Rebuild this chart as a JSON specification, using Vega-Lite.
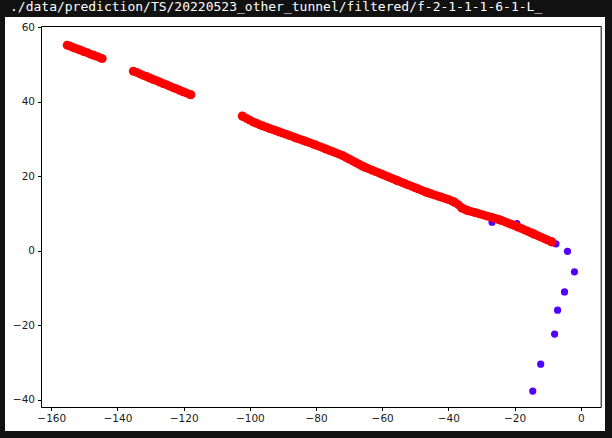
{
  "$schema": "https://vega.github.io/schema/vega-lite/v6.json",
  "autosize": "none",
  "padding": {"left": 5, "top": 17, "right": 7, "bottom": 7},
  "width": 600,
  "height": 414,
  "background": "#111111",
  "view": {"fill": "white", "stroke": null},
  "title": {
    "text": "./data/prediction/TS/20220523_other_tunnel/filtered/f-2-1-1-1-6-1-L_",
    "anchor": "start",
    "frame": "group",
    "color": "white",
    "font": "DejaVu Sans Mono",
    "fontSize": 13,
    "fontWeight": "normal",
    "offset": 3,
    "dx": 5
  },
  "config": {
    "axis": {
      "grid": false,
      "labelFont": "DejaVu Sans",
      "labelFontSize": 10.5,
      "labelColor": "#1a1a1a",
      "tickColor": "#000000",
      "tickSize": 3.5,
      "tickWidth": 1,
      "domainColor": "#000000",
      "domainWidth": 1,
      "labelPadding": 3,
      "title": null
    }
  },
  "datasets": {
    "truth": [
      {"x": -26.8, "y": 7.7},
      {"x": -19.3, "y": 7.3},
      {"x": -7.5, "y": 1.9},
      {"x": -4.0, "y": -0.1},
      {"x": -1.9, "y": -5.6},
      {"x": -4.9, "y": -11.0},
      {"x": -7.0, "y": -15.9},
      {"x": -7.9, "y": -22.3},
      {"x": -12.1, "y": -30.4},
      {"x": -14.5, "y": -37.6}
    ],
    "pred": [
      {"x": -155.2, "y": 55.2}, {"x": -154.2, "y": 54.9}, {"x": -153.2, "y": 54.5}, {"x": -152.2, "y": 54.2},
      {"x": -151.2, "y": 53.9}, {"x": -150.2, "y": 53.5}, {"x": -149.2, "y": 53.2}, {"x": -148.2, "y": 52.8},
      {"x": -147.2, "y": 52.5}, {"x": -146.2, "y": 52.2}, {"x": -145.2, "y": 51.8}, {"x": -144.6, "y": 51.6},
      {"x": -135.2, "y": 48.2}, {"x": -134.2, "y": 47.9}, {"x": -133.2, "y": 47.5}, {"x": -132.2, "y": 47.1},
      {"x": -131.2, "y": 46.8}, {"x": -130.2, "y": 46.4}, {"x": -129.2, "y": 46.0}, {"x": -128.2, "y": 45.7},
      {"x": -127.2, "y": 45.3}, {"x": -126.2, "y": 44.9}, {"x": -125.2, "y": 44.6}, {"x": -124.2, "y": 44.2},
      {"x": -123.2, "y": 43.8}, {"x": -122.2, "y": 43.5}, {"x": -121.2, "y": 43.1}, {"x": -120.2, "y": 42.7},
      {"x": -119.2, "y": 42.4}, {"x": -118.2, "y": 42.0}, {"x": -117.8, "y": 41.9},
      {"x": -102.3, "y": 36.2}, {"x": -102, "y": 36.05}, {"x": -101, "y": 35.55}, {"x": -100, "y": 35.1},
      {"x": -99, "y": 34.6}, {"x": -98, "y": 34.25}, {"x": -97, "y": 33.85}, {"x": -96, "y": 33.5},
      {"x": -95, "y": 33.2}, {"x": -94, "y": 32.85}, {"x": -93, "y": 32.55}, {"x": -92, "y": 32.25},
      {"x": -91, "y": 31.9}, {"x": -90, "y": 31.6}, {"x": -89, "y": 31.3}, {"x": -88, "y": 30.95},
      {"x": -87, "y": 30.65}, {"x": -86, "y": 30.3}, {"x": -85, "y": 30.0}, {"x": -84, "y": 29.7},
      {"x": -83, "y": 29.35}, {"x": -82, "y": 29.05}, {"x": -81, "y": 28.7}, {"x": -80, "y": 28.4},
      {"x": -79, "y": 28.05}, {"x": -78, "y": 27.7}, {"x": -77, "y": 27.35}, {"x": -76, "y": 27.0},
      {"x": -75, "y": 26.65}, {"x": -74, "y": 26.3}, {"x": -73, "y": 25.95}, {"x": -72, "y": 25.6},
      {"x": -71, "y": 25.13}, {"x": -70, "y": 24.66}, {"x": -69, "y": 24.19}, {"x": -68, "y": 23.72},
      {"x": -67, "y": 23.26}, {"x": -66, "y": 22.79}, {"x": -65.6, "y": 22.6}, {"x": -65, "y": 22.38},
      {"x": -64, "y": 22.01}, {"x": -63, "y": 21.65}, {"x": -62, "y": 21.28}, {"x": -61, "y": 20.92},
      {"x": -60, "y": 20.55}, {"x": -59, "y": 20.18}, {"x": -58, "y": 19.82}, {"x": -57, "y": 19.45},
      {"x": -56, "y": 19.08}, {"x": -55.5, "y": 18.9}, {"x": -55, "y": 18.72}, {"x": -54, "y": 18.37},
      {"x": -53, "y": 18.01}, {"x": -52, "y": 17.66}, {"x": -51, "y": 17.3}, {"x": -50, "y": 16.95},
      {"x": -49, "y": 16.59}, {"x": -48, "y": 16.23}, {"x": -47, "y": 15.88}, {"x": -46.5, "y": 15.7},
      {"x": -46, "y": 15.55}, {"x": -45, "y": 15.26}, {"x": -44, "y": 14.97}, {"x": -43, "y": 14.67},
      {"x": -42, "y": 14.38}, {"x": -41, "y": 14.09}, {"x": -40, "y": 13.8}, {"x": -39, "y": 13.43},
      {"x": -38.4, "y": 13.2}, {"x": -38, "y": 12.97}, {"x": -37, "y": 12.4}, {"x": -36, "y": 11.58},
      {"x": -35.9, "y": 11.5}, {"x": -35, "y": 11.14}, {"x": -34.4, "y": 10.9}, {"x": -34, "y": 10.8},
      {"x": -33, "y": 10.55}, {"x": -32, "y": 10.3}, {"x": -31, "y": 10.05}, {"x": -30, "y": 9.8},
      {"x": -29, "y": 9.54}, {"x": -28, "y": 9.27}, {"x": -27, "y": 9.01}, {"x": -26, "y": 8.75},
      {"x": -25, "y": 8.48}, {"x": -24.3, "y": 8.3}, {"x": -24, "y": 8.2}, {"x": -23, "y": 7.85},
      {"x": -22, "y": 7.5}, {"x": -21, "y": 7.15}, {"x": -20, "y": 6.8}, {"x": -19, "y": 6.41},
      {"x": -18, "y": 6.03}, {"x": -17, "y": 5.64}, {"x": -16, "y": 5.26}, {"x": -15, "y": 4.87},
      {"x": -14.3, "y": 4.6}, {"x": -14, "y": 4.48}, {"x": -13, "y": 4.09}, {"x": -12, "y": 3.7},
      {"x": -11, "y": 3.3}, {"x": -10, "y": 2.91}, {"x": -9, "y": 2.52}, {"x": -8.7, "y": 2.4}
    ]
  },
  "layer": [
    {
      "data": {"name": "truth"},
      "mark": {"type": "point", "shape": "circle", "filled": true, "opacity": 1, "size": 52, "color": "#5200ff", "strokeWidth": 0},
      "encoding": {
        "x": {
          "field": "x", "type": "quantitative",
          "scale": {"domain": [-163.11, 6.03], "range": [36, 595.7], "nice": false, "zero": false},
          "axis": {"orient": "bottom", "offset": -24, "values": [-160, -140, -120, -100, -80, -60, -40, -20, 0], "domain": true}
        },
        "y": {
          "field": "y", "type": "quantitative",
          "scale": {"domain": [-41.88, 60.35], "range": [390, 9], "nice": false, "zero": false},
          "axis": {"orient": "left", "offset": -36, "values": [-40, -20, 0, 20, 40, 60], "domain": true}
        }
      }
    },
    {
      "data": {"name": "pred"},
      "mark": {"type": "point", "shape": "circle", "filled": true, "opacity": 1, "size": 80, "color": "#ff0000", "strokeWidth": 0},
      "encoding": {
        "x": {
          "field": "x", "type": "quantitative",
          "axis": {"orient": "top", "offset": -9, "labels": false, "ticks": false, "domain": true}
        },
        "y": {
          "field": "y", "type": "quantitative",
          "axis": {"orient": "right", "offset": -4.3, "labels": false, "ticks": false, "domain": true}
        }
      }
    }
  ],
  "resolve": {"axis": {"x": "independent", "y": "independent"}}
}
